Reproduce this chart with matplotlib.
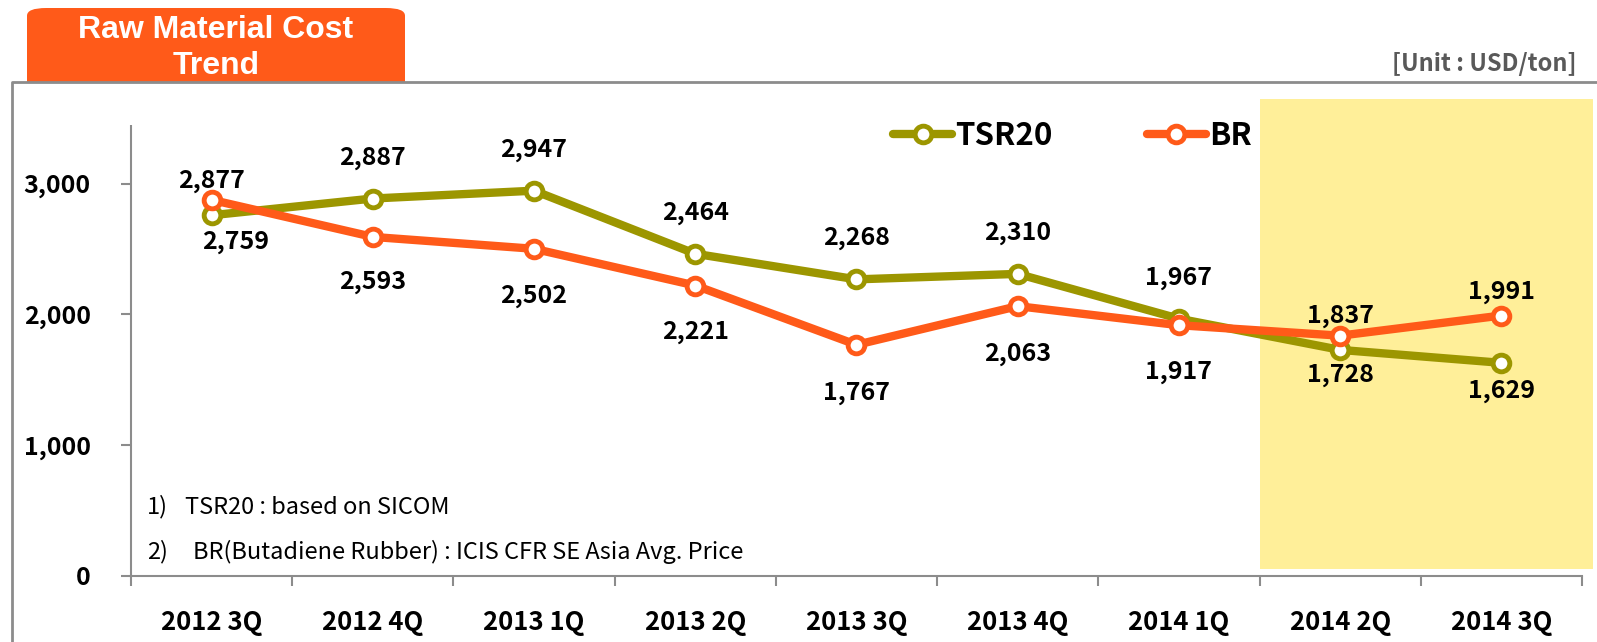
import matplotlib
matplotlib.use("Agg")
import matplotlib.pyplot as plt
from matplotlib.patches import FancyBboxPatch, Rectangle
from matplotlib.lines import Line2D
from matplotlib.ticker import FuncFormatter

# data
quarters = ["2012 3Q", "2012 4Q", "2013 1Q", "2013 2Q", "2013 3Q",
            "2013 4Q", "2014 1Q", "2014 2Q", "2014 3Q"]
tsr20 = [2759, 2887, 2947, 2464, 2268, 2310, 1967, 1728, 1629]
br = [2877, 2593, 2502, 2221, 1767, 2063, 1917, 1837, 1991]

# label offsets (pixels) for each point
tsr_off = [(24, -27), (0, 41), (0, 41), (0, 41), (0, 41), (0, 41), (0, 41), (0, -25), (0, -28)]
br_off = [(0, 19), (0, -45), (0, -47), (0, -46), (0, -48), (0, -48), (0, -47), (0, 20), (0, 24)]

c_tsr = "#9C9600"
c_br = "#FF5A19"
W, H = 1597, 642

plt.rcParams["font.family"] = ["Noto Sans CJK KR", "DejaVu Sans"]

fig = plt.figure(figsize=(W / 100, H / 100), dpi=100)

def fx(px):
    return px / W

def fy(py):
    return 1 - py / H

ax = fig.add_axes([fx(131), fy(575.6), fx(1582) - fx(131), fy(105) - fy(575.6)])
ax.set_xlim(-0.5, 8.5)
ax.set_ylim(0, 3603)

# highlighted period
ax.add_patch(Rectangle((6.5, 50), 8.57 - 6.5, 3600, facecolor="#FFEF99",
                       edgecolor="none", clip_on=False, zorder=0))

x = list(range(len(quarters)))
l1, = ax.plot(x, tsr20, color=c_tsr, lw=6, marker="o", ms=12, mfc="white",
              mec=c_tsr, mew=3.5, solid_capstyle="round", zorder=3)
l2, = ax.plot(x, br, color=c_br, lw=6, marker="o", ms=12, mfc="white",
              mec=c_br, mew=3.5, solid_capstyle="round", zorder=4)

for i in x:
    ax.annotate(f"{tsr20[i]:,}", (i, tsr20[i]), xytext=tsr_off[i], textcoords="offset pixels",
                ha="center", va="center", fontsize=18, fontweight="bold", zorder=5)
    ax.annotate(f"{br[i]:,}", (i, br[i]), xytext=br_off[i], textcoords="offset pixels",
                ha="center", va="center", fontsize=18, fontweight="bold", zorder=5)

# axes styling
for s in ["top", "right"]:
    ax.spines[s].set_visible(False)
for s in ["left", "bottom"]:
    ax.spines[s].set_color("#8c8c8c")
    ax.spines[s].set_linewidth(1.5)

ax.set_yticks([0, 1000, 2000, 3000])
ax.yaxis.set_major_formatter(FuncFormatter(lambda v, p: f"{int(v):,}"))
ax.tick_params(axis="y", length=7, width=1.5, color="#8c8c8c", pad=22, labelsize=18)
ax.set_xticks(x)
ax.set_xticklabels(quarters)
ax.set_xticks([i - 0.5 for i in range(len(quarters) + 1)], minor=True)
ax.tick_params(axis="x", which="major", length=0, pad=24, labelsize=18.5)
ax.tick_params(axis="x", which="minor", length=7, width=1.5, color="#8c8c8c", direction="out")
for lab in ax.get_xticklabels() + ax.get_yticklabels():
    lab.set_fontweight("bold")

# legend
ax.legend([l1, l2], ["TSR20", "BR"], ncol=2, frameon=False, loc="center left",
          bbox_to_anchor=(fx(893), fy(136)), bbox_transform=fig.transFigure,
          prop={"size": 22.5, "weight": "bold"}, handlelength=1.9, handletextpad=0.1,
          columnspacing=3.0, borderaxespad=0, borderpad=0)

# footnotes
fs_note = 17
ax.text(fx(147), fy(507), "1)", transform=fig.transFigure, fontsize=fs_note, va="center")
ax.text(fx(185), fy(507), "TSR20 : based on SICOM", transform=fig.transFigure,
        fontsize=fs_note, va="center")
ax.text(fx(147), fy(552), "2)", transform=fig.transFigure, fontsize=fs_note, va="center")
ax.text(fx(193), fy(552), "BR(Butadiene Rubber) : ICIS CFR SE Asia Avg. Price",
        transform=fig.transFigure, fontsize=fs_note, va="center")

# title tab
fig.patches.append(FancyBboxPatch((fx(27), fy(110)), fx(405) - fx(27), fy(8) - fy(110),
                                  boxstyle="round,pad=0,rounding_size=0.012",
                                  facecolor=c_br, edgecolor="none",
                                  transform=fig.transFigure, figure=fig, zorder=1))
fig.patches.append(Rectangle((fx(20), fy(125)), fx(415) - fx(20), fy(82) - fy(125),
                             facecolor="white", edgecolor="none",
                             transform=fig.transFigure, figure=fig, zorder=2))
fig.text(fx(216), fy(48), "Raw Material Cost\nTrend", ha="center", va="center",
         color="white", fontsize=23, fontweight="bold", family="Liberation Sans",
         linespacing=1.3, zorder=5)

# outer frame
fig.lines.append(Line2D([fx(12), fx(12), 1], [0, fy(81.5), fy(81.5)],
                        transform=fig.transFigure, color="#8c8c8c", lw=2, zorder=3))

fig.text(fx(1576), fy(64), "[Unit : USD/ton]", ha="right", va="center",
         color="#595959", fontsize=17, fontweight="bold")

fig.savefig("out.png", dpi=100)
